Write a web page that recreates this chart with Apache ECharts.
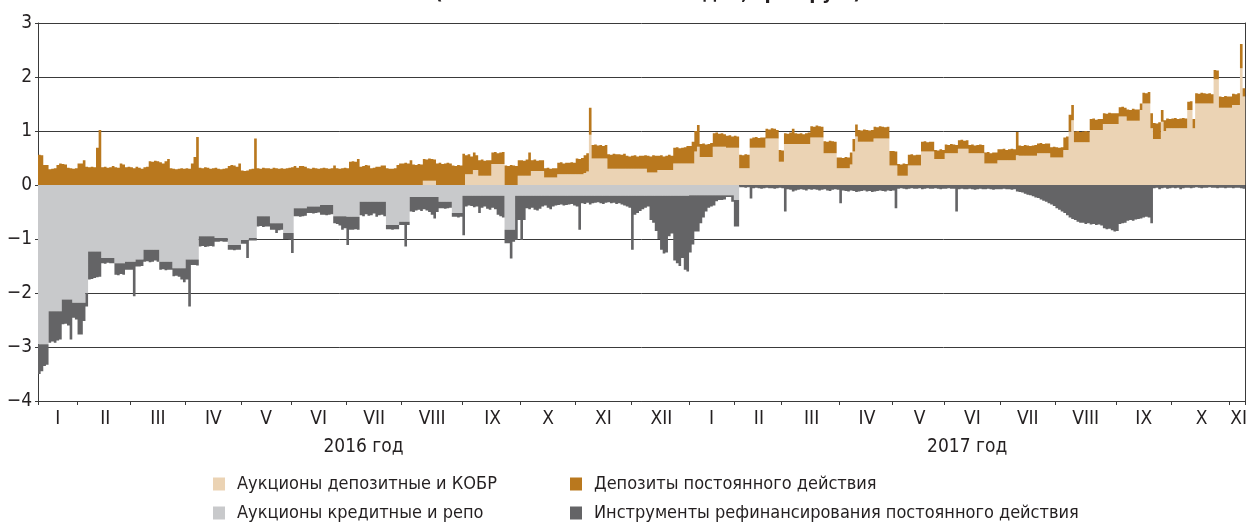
<!DOCTYPE html>
<html><head><meta charset="utf-8">
<script src="https://cdn.jsdelivr.net/npm/echarts@6/dist/echarts.min.js"></script>
<style>html,body{margin:0;padding:0;background:#fff}#c{width:1250px;height:523px}</style>
</head><body><div id="c"></div>
<script>
const monthNames = ['I','II','III','IV','V','VI','VII','VIII','IX','X','XI','XII','I','II','III','IV','V','VI','VII','VIII','IX','X','XI'];
const monthDays = [15,20,21,21,19,21,21,23,22,21,21,22,17,18,22,20,20,21,21,23,21,22,6];
const yearLabels = ['2016 год','2017 год'];
const yearMonthCount = [12,11];
const yTicks = [-4,-3,-2,-1,0,1,2,3];
const seriesNames = ['Аукционы депозитные и КОБР','Депозиты постоянного действия','Аукционы кредитные и репо','Инструменты рефинансирования постоянного действия'];

// Аукционы депозитные и КОБР (трлн руб.), by business day
const depAuc = [
0,0,0,0,0,0,0,0,0,0,0,0,0,0,0,
0,0,0,0,0,0,0,0,0,0,0,0,0,0,0,0,0,0,0,0,
0,0,0,0,0,0,0,0,0,0,0,0,0,0,0,0,0,0,0,0,0,
0,0,0,0,0,0,0,0,0,0,0,0,0,0,0,0,0,0,0,0,0,
0,0,0,0,0,0,0,0,0,0,0,0,0,0,0,0,0,0,0,
0,0,0,0,0,0,0,0,0,0,0,0,0,0,0,0,0,0,0,0,0,
0,0,0,0,0,0,0,0,0,0,0,0,0,0,0,0,0,0,0,0,0,
0,0,0,0,0,0,0,0,0.08,0.08,0.08,0.08,0.08,0,0,0,0,0,0,0,0,0,0,
0,0.2,0.2,0.2,0.28,0.28,0.17,0.17,0.17,0.17,0.17,0.39,0.39,0.39,0.39,0.39,0,0,0,0,0,0.17,
0.17,0.17,0.17,0.17,0.26,0.26,0.26,0.26,0.26,0.14,0.14,0.14,0.14,0.14,0.2,0.2,0.2,0.2,0.2,0.2,0.2,
0.2,0.2,0.2,0.22,0.25,0.93,0.49,0.49,0.49,0.49,0.49,0.49,0.3,0.3,0.3,0.3,0.3,0.3,0.3,0.3,0.3,
0.3,0.3,0.3,0.3,0.3,0.3,0.23,0.23,0.23,0.23,0.28,0.28,0.28,0.28,0.28,0.28,0.4,0.4,0.4,0.4,0.4,0.4,
0.4,0.4,0.62,0.71,0.52,0.52,0.52,0.52,0.52,0.71,0.71,0.71,0.71,0.71,0.69,0.69,0.69,
0.69,0.69,0.31,0.31,0.31,0.31,0.69,0.69,0.69,0.69,0.69,0.69,0.86,0.86,0.86,0.86,0.86,0.43,
0.43,0.76,0.76,0.76,0.76,0.76,0.76,0.76,0.76,0.76,0.76,0.88,0.88,0.88,0.88,0.88,0.59,0.59,0.59,0.59,0.59,0.31,
0.31,0.31,0.31,0.31,0.38,0.62,0.9,0.8,0.8,0.8,0.8,0.8,0.8,0.86,0.86,0.86,0.86,0.86,0.86,0.36,
0.36,0.36,0.17,0.17,0.17,0.17,0.36,0.36,0.36,0.36,0.36,0.62,0.62,0.62,0.62,0.62,0.48,0.48,0.48,0.48,
0.59,0.59,0.59,0.59,0.59,0.67,0.67,0.67,0.67,0.59,0.59,0.59,0.59,0.59,0.59,0.4,0.4,0.4,0.4,0.4,0.46,
0.46,0.46,0.46,0.46,0.46,0.46,0.55,0.54,0.54,0.54,0.54,0.54,0.54,0.54,0.59,0.59,0.59,0.59,0.59,0.51,0.51,
0.51,0.51,0.51,0.65,0.65,0.99,1.2,0.79,0.79,0.79,0.79,0.79,0.79,1.02,1.02,1.02,1.02,1.02,1.13,1.13,1.13,1.13,1.13,
1.13,1.27,1.27,1.27,1.19,1.19,1.19,1.19,1.19,1.39,1.51,1.51,1.51,1.05,0.85,0.85,0.85,1.17,1.0,1.05,1.05,
1.05,1.05,1.05,1.05,1.05,1.05,1.39,1.39,1.05,1.51,1.51,1.51,1.51,1.51,1.51,1.51,1.96,1.96,1.43,1.43,1.43,1.43,
1.43,1.48,1.48,1.48,2.16,1.64
];

// Депозиты постоянного действия
const depStand = [
0.56,0.55,0.37,0.37,0.29,0.30,0.31,0.37,0.40,0.39,0.38,0.32,0.31,0.30,0.31,
0.40,0.40,0.46,0.34,0.33,0.34,0.33,0.69,1.02,0.33,0.34,0.32,0.33,0.35,0.33,0.32,0.40,0.38,0.33,0.34,
0.33,0.31,0.34,0.32,0.30,0.33,0.34,0.44,0.43,0.45,0.44,0.42,0.40,0.44,0.48,0.31,0.30,0.29,0.30,0.31,0.30,
0.31,0.30,0.40,0.52,0.89,0.32,0.31,0.33,0.32,0.30,0.31,0.32,0.30,0.29,0.30,0.31,0.35,0.37,0.36,0.34,0.40,
0.27,0.26,0.27,0.29,0.30,0.86,0.31,0.30,0.32,0.31,0.31,0.30,0.32,0.31,0.30,0.31,0.30,0.31,0.32,
0.33,0.35,0.32,0.35,0.35,0.34,0.31,0.30,0.32,0.31,0.30,0.31,0.32,0.31,0.30,0.31,0.36,0.31,0.30,0.31,0.32,
0.31,0.43,0.44,0.43,0.48,0.34,0.35,0.37,0.36,0.31,0.32,0.34,0.34,0.36,0.36,0.31,0.30,0.30,0.31,0.37,0.40,
0.40,0.41,0.40,0.46,0.38,0.37,0.39,0.38,0.40,0.39,0.41,0.40,0.39,0.40,0.41,0.39,0.40,0.41,0.40,0.36,0.35,0.37,0.36,
0.58,0.35,0.37,0.33,0.32,0.27,0.29,0.30,0.28,0.29,0.29,0.21,0.22,0.20,0.21,0.22,0.36,0.35,0.37,0.36,0.35,0.29,
0.29,0.28,0.30,0.43,0.20,0.21,0.19,0.20,0.20,0.17,0.18,0.16,0.17,0.17,0.21,0.22,0.20,0.21,0.21,0.22,0.21,
0.29,0.28,0.30,0.33,0.34,0.50,0.25,0.26,0.24,0.25,0.23,0.25,0.27,0.26,0.28,0.27,0.27,0.26,0.28,0.24,0.23,
0.24,0.25,0.23,0.24,0.24,0.25,0.31,0.30,0.32,0.31,0.26,0.27,0.25,0.26,0.28,0.26,0.29,0.30,0.28,0.29,0.30,0.32,
0.32,0.40,0.38,0.40,0.24,0.25,0.23,0.24,0.26,0.25,0.26,0.24,0.25,0.23,0.22,0.23,0.21,
0.22,0.21,0.25,0.24,0.26,0.25,0.17,0.19,0.20,0.18,0.19,0.19,0.18,0.17,0.19,0.18,0.16,0.22,
0.21,0.20,0.19,0.21,0.28,0.20,0.19,0.20,0.18,0.20,0.21,0.21,0.20,0.22,0.21,0.20,0.22,0.21,0.23,0.22,0.21,0.20,
0.20,0.19,0.21,0.20,0.22,0.23,0.22,0.22,0.21,0.23,0.22,0.21,0.22,0.22,0.21,0.23,0.22,0.21,0.22,0.27,
0.27,0.26,0.22,0.21,0.23,0.22,0.20,0.21,0.19,0.20,0.20,0.18,0.19,0.17,0.18,0.18,0.17,0.16,0.18,0.17,
0.16,0.15,0.17,0.16,0.15,0.16,0.17,0.15,0.16,0.15,0.16,0.14,0.15,0.16,0.15,0.20,0.21,0.19,0.20,0.20,0.20,
0.20,0.21,0.19,0.20,0.21,0.20,0.43,0.19,0.18,0.20,0.19,0.18,0.19,0.20,0.18,0.19,0.17,0.18,0.18,0.19,0.20,
0.19,0.18,0.19,0.23,0.25,0.31,0.28,0.20,0.21,0.19,0.20,0.21,0.20,0.20,0.21,0.19,0.20,0.20,0.20,0.19,0.21,0.20,0.20,
0.20,0.17,0.18,0.16,0.21,0.20,0.22,0.21,0.21,0.12,0.20,0.19,0.21,0.28,0.30,0.29,0.31,0.22,0.20,0.18,0.17,
0.18,0.19,0.17,0.18,0.19,0.18,0.15,0.16,0.17,0.19,0.18,0.20,0.19,0.18,0.19,0.17,0.17,0.16,0.21,0.20,0.22,0.21,
0.21,0.21,0.20,0.22,0.45,0.15
];

// Аукционы кредитные и репо
const credAuc = [
-2.95,-2.95,-2.95,-2.95,-2.34,-2.34,-2.34,-2.34,-2.34,-2.12,-2.12,-2.12,-2.12,-2.18,-2.18,
-2.18,-2.18,-2.18,-2.0,-1.23,-1.23,-1.23,-1.23,-1.23,-1.35,-1.35,-1.35,-1.35,-1.35,-1.45,-1.45,-1.45,-1.45,-1.42,-1.42,
-1.42,-1.42,-1.38,-1.38,-1.38,-1.2,-1.2,-1.2,-1.2,-1.2,-1.2,-1.42,-1.42,-1.42,-1.42,-1.42,-1.54,-1.54,-1.54,-1.54,-1.54,
-1.38,-1.38,-1.38,-1.38,-1.38,-0.95,-0.95,-0.95,-0.95,-0.95,-0.95,-0.98,-0.98,-0.98,-0.98,-0.98,-1.11,-1.11,-1.11,-1.11,-1.11,
-1.02,-1.02,-1.02,-0.98,-0.98,-0.98,-0.58,-0.58,-0.58,-0.58,-0.58,-0.71,-0.71,-0.71,-0.71,-0.71,-0.89,-0.89,-0.89,
-0.89,-0.43,-0.43,-0.43,-0.43,-0.43,-0.4,-0.4,-0.4,-0.4,-0.4,-0.37,-0.37,-0.37,-0.37,-0.37,-0.58,-0.58,-0.58,-0.58,-0.58,
-0.59,-0.59,-0.59,-0.59,-0.59,-0.31,-0.31,-0.31,-0.31,-0.31,-0.31,-0.31,-0.31,-0.31,-0.31,-0.74,-0.74,-0.74,-0.74,-0.74,-0.68,
-0.68,-0.68,-0.68,-0.22,-0.22,-0.22,-0.22,-0.22,-0.22,-0.22,-0.22,-0.22,-0.22,-0.22,-0.31,-0.31,-0.31,-0.31,-0.31,-0.52,-0.52,-0.52,-0.52,
-0.2,-0.2,-0.2,-0.2,-0.2,-0.2,-0.2,-0.2,-0.2,-0.2,-0.2,-0.2,-0.2,-0.2,-0.2,-0.2,-0.83,-0.83,-0.83,-0.83,-0.2,-0.2,
-0.2,-0.2,-0.2,-0.2,-0.2,-0.2,-0.2,-0.2,-0.2,-0.2,-0.2,-0.2,-0.2,-0.2,-0.2,-0.2,-0.2,-0.2,-0.2,-0.2,-0.2,
-0.2,-0.2,-0.2,-0.2,-0.2,-0.2,-0.2,-0.2,-0.2,-0.2,-0.2,-0.2,-0.2,-0.2,-0.2,-0.2,-0.2,-0.2,-0.2,-0.2,-0.2,
-0.2,-0.2,-0.2,-0.2,-0.2,-0.2,-0.2,-0.2,-0.2,-0.2,-0.2,-0.2,-0.2,-0.2,-0.2,-0.2,-0.2,-0.2,-0.2,-0.2,-0.2,-0.2,
-0.19,-0.19,-0.19,-0.19,-0.19,-0.19,-0.19,-0.19,-0.19,-0.19,-0.19,-0.19,-0.19,-0.19,-0.19,-0.19,-0.19,
-0.28,-0.28,0,0,0,0,0,0,0,0,0,0,0,0,0,0,0,0,
0,0,0,0,0,0,0,0,0,0,0,0,0,0,0,0,0,0,0,0,0,0,
0,0,0,0,0,0,0,0,0,0,0,0,0,0,0,0,0,0,0,0,
0,0,0,0,0,0,0,0,0,0,0,0,0,0,0,0,0,0,0,0,
0,0,0,0,0,0,0,0,0,0,0,0,0,0,0,0,0,0,0,0,0,
0,0,0,0,0,0,0,0,0,0,0,0,0,0,0,0,0,0,0,0,0,
0,0,0,0,0,0,0,0,0,0,0,0,0,0,0,0,0,0,0,0,0,0,0,
0,0,0,0,0,0,0,0,0,0,0,0,0,0,0,0,0,0,0,0,0,
0,0,0,0,0,0,0,0,0,0,0,0,0,0,0,0,0,0,0,0,0,0,
0,0,0,0,0,0
];

// Инструменты рефинансирования постоянного действия
const refStand = [
-0.55,-0.50,-0.40,-0.38,-0.58,-0.56,-0.58,-0.54,-0.52,-0.46,-0.45,-0.48,-0.74,-0.28,-0.31,
-0.59,-0.59,-0.34,-0.25,-0.52,-0.51,-0.49,-0.48,-0.47,-0.10,-0.11,-0.09,-0.10,-0.10,-0.21,-0.22,-0.20,-0.21,-0.15,-0.15,
-0.15,-0.64,-0.13,-0.13,-0.12,-0.22,-0.21,-0.23,-0.22,-0.20,-0.22,-0.15,-0.14,-0.16,-0.15,-0.15,-0.15,-0.14,-0.16,-0.21,-0.26,
-0.37,-0.87,-0.10,-0.10,-0.11,-0.19,-0.18,-0.20,-0.19,-0.18,-0.19,-0.07,-0.07,-0.06,-0.07,-0.07,-0.09,-0.09,-0.10,-0.09,-0.09,
-0.07,-0.07,-0.33,-0.05,-0.05,-0.05,-0.19,-0.18,-0.20,-0.19,-0.19,-0.12,-0.12,-0.18,-0.13,-0.12,-0.11,-0.11,-0.12,
-0.37,-0.15,-0.15,-0.16,-0.15,-0.14,-0.12,-0.12,-0.13,-0.12,-0.11,-0.18,-0.18,-0.19,-0.18,-0.17,-0.13,-0.14,-0.17,-0.25,-0.22,
-0.52,-0.24,-0.24,-0.23,-0.24,-0.25,-0.27,-0.23,-0.26,-0.25,-0.22,-0.28,-0.25,-0.24,-0.27,-0.08,-0.08,-0.09,-0.08,-0.08,-0.06,
-0.06,-0.46,-0.06,-0.27,-0.28,-0.25,-0.24,-0.26,-0.23,-0.25,-0.28,-0.33,-0.40,-0.28,-0.12,-0.12,-0.13,-0.12,-0.11,-0.07,-0.07,-0.08,-0.07,
-0.73,-0.20,-0.18,-0.19,-0.21,-0.20,-0.32,-0.22,-0.20,-0.24,-0.26,-0.22,-0.25,-0.35,-0.38,-0.40,-0.25,-0.25,-0.53,-0.22,-0.82,-0.45,
-0.82,-0.45,-0.23,-0.25,-0.22,-0.26,-0.27,-0.24,-0.20,-0.18,-0.22,-0.25,-0.20,-0.18,-0.17,-0.16,-0.18,-0.17,-0.16,-0.15,-0.18,
-0.20,-0.63,-0.14,-0.15,-0.13,-0.16,-0.14,-0.13,-0.12,-0.14,-0.15,-0.13,-0.12,-0.14,-0.13,-0.15,-0.14,-0.16,-0.18,-0.20,-0.22,
-1.00,-0.35,-0.32,-0.28,-0.25,-0.22,-0.20,-0.45,-0.50,-0.65,-0.80,-1.00,-1.07,-1.05,-0.75,-0.70,-1.20,-1.25,-1.30,-1.15,-1.37,-1.40,
-1.06,-0.91,-0.67,-0.67,-0.52,-0.41,-0.30,-0.23,-0.21,-0.19,-0.11,-0.09,-0.09,-0.08,-0.03,-0.03,-0.12,
-0.49,-0.49,-0.04,-0.04,-0.05,-0.04,-0.25,-0.06,-0.05,-0.06,-0.07,-0.06,-0.05,-0.06,-0.06,-0.07,-0.06,-0.05,
-0.06,-0.49,-0.08,-0.09,-0.12,-0.10,-0.09,-0.08,-0.09,-0.10,-0.08,-0.09,-0.08,-0.09,-0.10,-0.09,-0.08,-0.10,-0.11,-0.09,-0.08,-0.09,
-0.34,-0.10,-0.11,-0.12,-0.10,-0.11,-0.13,-0.12,-0.11,-0.10,-0.12,-0.11,-0.13,-0.12,-0.11,-0.10,-0.11,-0.12,-0.10,-0.11,
-0.10,-0.43,-0.07,-0.06,-0.07,-0.08,-0.07,-0.06,-0.07,-0.07,-0.06,-0.08,-0.07,-0.06,-0.07,-0.07,-0.06,-0.07,-0.08,-0.07,
-0.07,-0.06,-0.07,-0.07,-0.49,-0.08,-0.07,-0.08,-0.08,-0.07,-0.08,-0.09,-0.08,-0.07,-0.08,-0.08,-0.07,-0.08,-0.09,-0.08,-0.08,
-0.08,-0.07,-0.08,-0.08,-0.09,-0.08,-0.12,-0.13,-0.14,-0.16,-0.18,-0.19,-0.21,-0.23,-0.24,-0.27,-0.29,-0.31,-0.34,-0.36,-0.39,
-0.43,-0.46,-0.49,-0.52,-0.56,-0.60,-0.63,-0.65,-0.68,-0.70,-0.70,-0.72,-0.71,-0.73,-0.72,-0.74,-0.73,-0.75,-0.80,-0.82,-0.81,-0.84,-0.86,
-0.85,-0.72,-0.71,-0.70,-0.66,-0.65,-0.66,-0.64,-0.63,-0.62,-0.60,-0.59,-0.60,-0.71,-0.06,-0.05,-0.08,-0.06,-0.05,-0.07,-0.06,
-0.05,-0.06,-0.05,-0.08,-0.06,-0.05,-0.05,-0.06,-0.05,-0.04,-0.05,-0.06,-0.05,-0.05,-0.04,-0.05,-0.05,-0.06,-0.05,-0.05,-0.06,-0.05,
-0.05,-0.06,-0.05,-0.05,-0.06,-0.07
];

// ---- build categories (one per business day) ----
const categories = [];
const monthStartSet = new Set();
const monthLabelAt = {};
const yearLabelAt = {};
let pos = 0;
monthDays.forEach((n, m) => {
  const year = m < yearMonthCount[0] ? 2016 : 2017;
  monthStartSet.add(pos);
  monthLabelAt[pos + Math.floor(n / 2)] = monthNames[m];
  for (let d = 0; d < n; d++) categories.push(year + '-' + ((m % 12) + 1) + '-' + (d + 1));
  pos += n;
});
let ys = 0, mi = 0;
yearMonthCount.forEach((cnt, y) => {
  let days = 0;
  for (let k = 0; k < cnt; k++) days += monthDays[mi + k];
  yearLabelAt[ys + Math.floor(days / 2)] = yearLabels[y];
  ys += days; mi += cnt;
});
const year2017Start = monthDays.slice(0, 12).reduce((a, b) => a + b, 0);

const FONT = "'Liberation Sans Narrow','Arial Narrow','DejaVu Sans Condensed',sans-serif";
const TXT = '#231f20';
const LINE = '#3a3a3a';
const colors = ['#EBD3B4', '#B9781E', '#C8C9CB', '#646466'];

const chart = echarts.init(document.getElementById('c'), null, {renderer: 'canvas'});
const bar = (i, data) => ({
  name: seriesNames[i], type: 'bar', stack: 'total', data: data,
  barCategoryGap: '0%', barGap: '0%',
  large: true, largeThreshold: 50,
  itemStyle: {color: colors[i]},
  emphasis: {disabled: true}, animation: false
});
const legendAt = (i, left, top) => ({
  data: [seriesNames[i]], left: left, top: top, padding: 0,
  itemWidth: 12, itemHeight: 13, icon: 'rect', selectedMode: false,
  itemStyle: {borderWidth: 0},
  textStyle: {fontFamily: FONT, fontSize: 18, color: TXT, padding: [0, 0, 0, 7]}
});

chart.setOption({
  animation: false,
  title: {
    text: '(по состоянию на начало дня, трлн руб.)',
    left: 643, top: -21, textAlign: 'center',
    textStyle: {fontFamily: FONT, fontSize: 20, fontWeight: 'bold', color: TXT}
  },
  grid: {left: 38, right: 2, top: 23, bottom: 122, containLabel: false},
  legend: [
    legendAt(0, 213, 475), legendAt(2, 213, 504),
    legendAt(1, 570, 475), legendAt(3, 570, 504)
  ],
  xAxis: [
    {type: 'category', data: categories, boundaryGap: true,
     axisLine: {show: true, onZero: false, lineStyle: {color: LINE, width: 1}},
     axisTick: {show: true, length: 4, interval: (i) => monthStartSet.has(i), lineStyle: {color: LINE}},
     axisLabel: {show: true, interval: (i) => monthLabelAt[i] !== undefined,
       formatter: (v, i) => monthLabelAt[i] || '', margin: 9,
       fontFamily: FONT, fontSize: 19, color: TXT},
     splitLine: {show: true, interval: (i) => i === year2017Start, lineStyle: {color: LINE, width: 1}}
    },
    {type: 'category', data: categories, position: 'bottom', boundaryGap: true,
     axisLine: {show: false}, axisTick: {show: false}, splitLine: {show: false},
     axisLabel: {show: true, interval: (i) => yearLabelAt[i] !== undefined,
       formatter: (v, i) => yearLabelAt[i] || '', margin: 37,
       fontFamily: FONT, fontSize: 19, color: TXT}
    }
  ],
  yAxis: [
    {type: 'value', min: yTicks[0], max: yTicks[yTicks.length - 1], interval: 1,
     axisLine: {show: true, lineStyle: {color: LINE}},
     axisTick: {show: true, length: 3, lineStyle: {color: LINE}},
     axisLabel: {margin: 6, fontFamily: FONT, fontSize: 19, color: TXT,
       formatter: (v) => v < 0 ? '\u2212' + Math.abs(v) : String(v)},
     splitLine: {show: true, lineStyle: {color: LINE, width: 1}}
    },
    {type: 'value', position: 'right', min: yTicks[0], max: yTicks[yTicks.length - 1], interval: 1,
     axisLine: {show: true, lineStyle: {color: LINE}}, axisTick: {show: false},
     axisLabel: {show: false}, splitLine: {show: false}}
  ],
  series: [bar(0, depAuc), bar(1, depStand), bar(2, credAuc), bar(3, refStand)]
});
</script>
</body></html>
